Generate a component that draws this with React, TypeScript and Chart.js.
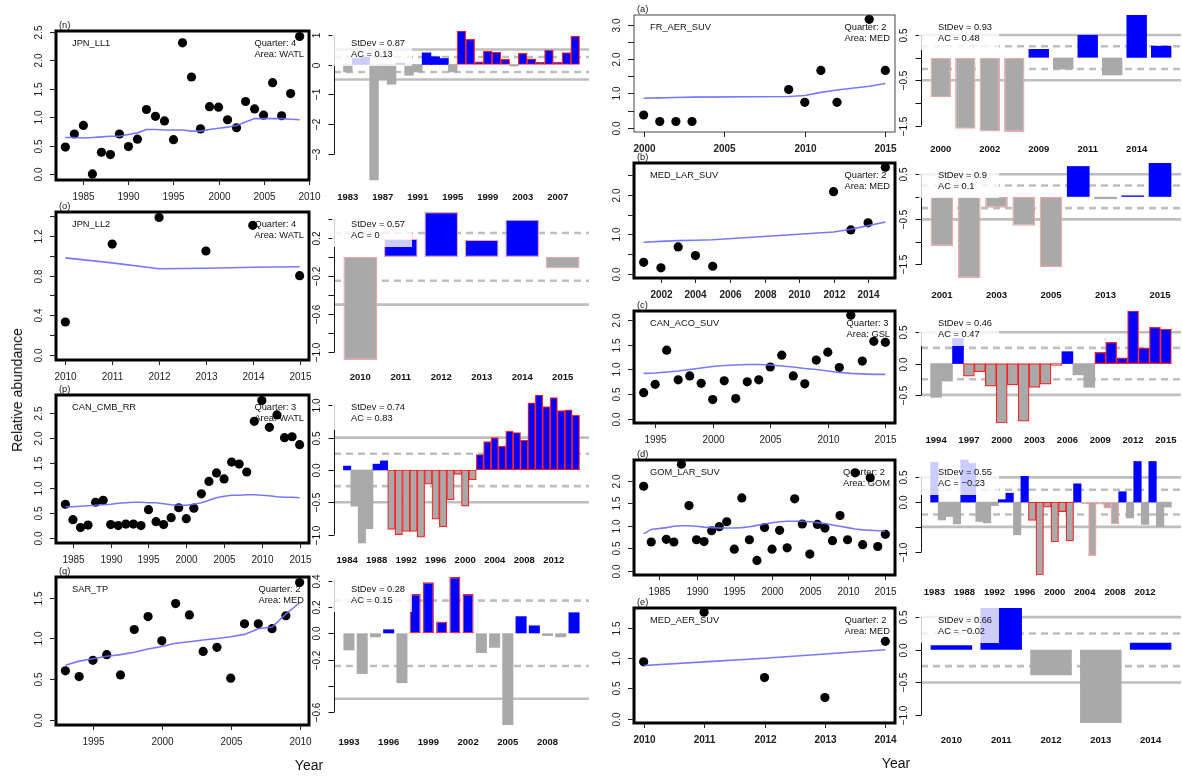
import React, { useEffect, useRef } from 'react';
import { Chart, registerables } from 'chart.js';
Chart.register(...registerables);

const FF = '"Liberation Sans", Arial, Helvetica, sans-serif';
const BLUE = '#0000ff';
const GRAY = '#a9a9a9';
const RED = '#ff2020';
const PINK = '#f3a3a3';
const REF = '#bebebe';
const TREND = 'rgba(105,105,255,0.9)';

// ---------------- (n) JPN_LL1 ----------------
const nYears = [1983,1984,1985,1986,1987,1988,1989,1990,1991,1992,1993,1994,1995,1996,1997,1998,1999,2000,2001,2002,2003,2004,2005,2006,2007,2008,2009];
const nIndex = [0.48,0.71,0.86,0.01,0.39,0.35,0.71,0.49,0.62,1.14,1.02,0.94,0.61,2.31,1.71,0.80,1.19,1.18,0.96,0.82,1.28,1.15,1.04,1.61,1.03,1.42,2.42];
const nTrend = [0.65,0.65,0.64,0.65,0.66,0.67,0.67,0.70,0.73,0.79,0.79,0.78,0.78,0.78,0.76,0.76,0.79,0.81,0.83,0.86,0.92,0.98,0.98,0.98,0.98,0.97,0.96];
const nAnom = [-0.25,0.20,0.25,-3.86,-0.50,-0.66,0.05,-0.36,-0.25,0.39,0.26,0.20,-0.25,1.12,0.84,0.09,0.45,0.41,0.17,-0.05,0.37,0.19,0.08,0.48,0.08,0.40,0.95];
const nRed = [1996,1997,1998,1999,2000,2001,2003,2004,2005,2006,2007,2008,2009];

// ---------------- (o) JPN_LL2 ----------------
const oYears = [2010,2011,2012,2013,2014,2015];
const oIndex = [0.33,1.12,1.39,1.05,1.31,0.80];
const oTrend = [0.98,0.93,0.87,0.875,0.885,0.89];
const oAnom = [-1.08,0.19,0.47,0.18,0.39,-0.12];

// ---------------- (p) CAN_CMB_RR ----------------
const pYears = [1984,1985,1986,1987,1988,1989,1990,1991,1992,1993,1994,1995,1996,1997,1998,1999,2000,2001,2002,2003,2004,2005,2006,2007,2008,2009,2010,2011,2012,2013,2014,2015];
const pIndex = [0.67,0.36,0.20,0.25,0.71,0.75,0.26,0.24,0.27,0.27,0.24,0.56,0.32,0.26,0.40,0.60,0.38,0.59,0.88,1.13,1.30,1.18,1.52,1.48,1.32,2.34,2.76,2.22,2.47,2.01,2.03,1.87];
const pTrend = [0.62,0.62,0.63,0.64,0.65,0.66,0.67,0.69,0.70,0.71,0.71,0.70,0.70,0.68,0.66,0.65,0.65,0.67,0.70,0.75,0.80,0.83,0.85,0.85,0.86,0.86,0.85,0.84,0.82,0.81,0.81,0.80];
const pAnom = [0.06,-0.56,-1.13,-0.91,0.09,0.14,-0.92,-1.00,-0.95,-0.95,-1.04,-0.22,-0.76,-0.88,-0.46,-0.07,-0.56,-0.15,0.24,0.44,0.50,0.37,0.60,0.58,0.46,1.04,1.16,0.98,1.12,0.92,0.93,0.85];
const pRed = [1990,1991,1992,1993,1994,1995,1996,1997,1998,1999,2000,2001,2002,2003,2004,2005,2006,2007,2008,2009,2010,2011,2012,2013,2014,2015];

// ---------------- (q) SAR_TP ----------------
const qYears = [1993,1994,1995,1996,1997,1998,1999,2000,2001,2002,2003,2004,2005,2006,2007,2008,2009,2010];
const qIndex = [0.60,0.53,0.73,0.80,0.55,1.11,1.27,0.97,1.43,1.29,0.84,0.89,0.51,1.18,1.18,1.12,1.28,1.69];
const qTrend = [0.67,0.72,0.75,0.78,0.80,0.83,0.87,0.90,0.94,0.96,0.98,1.00,1.02,1.05,1.12,1.14,1.30,1.44];
const qAnom = [-0.13,-0.31,-0.03,0.03,-0.38,0.30,0.39,0.09,0.43,0.30,-0.15,-0.11,-0.70,0.13,0.06,-0.02,-0.03,0.16];
const qRed = [1998,1999,2000,2001,2002];

// ---------------- (a) FR_AER_SUV ----------------
const aYears = [2000,2001,2002,2003,2009,2010,2011,2012,2014,2015];
const aIndex = [0.37,0.18,0.18,0.18,1.11,0.74,1.67,0.74,3.16,1.67];
const aTrend = [0.86,0.87,0.88,0.89,0.91,0.94,1.03,1.10,1.21,1.29];
const aAnom = [-0.87,-1.57,-1.63,-1.64,0.19,-0.26,0.50,-0.39,0.94,0.26];
const aPink = [2000,2001,2002,2003];

// ---------------- (b) MED_LAR_SUV ----------------
const bYears = [2001,2002,2003,2004,2005,2012,2013,2014,2015];
const bIndex = [0.29,0.15,0.68,0.46,0.19,2.08,1.11,1.29,2.70];
const bTrend = [0.80,0.82,0.84,0.85,0.86,1.06,1.13,1.22,1.31];
const bAnom = [-1.09,-1.80,-0.24,-0.64,-1.56,0.68,-0.05,0.03,0.75];
const bPink = [2001,2002,2003,2004,2005];

// ---------------- (c) CAN_ACO_SUV ----------------
const cYears = [1994,1995,1996,1997,1998,1999,2000,2001,2002,2003,2004,2005,2006,2007,2008,2009,2010,2011,2012,2013,2014,2015];
const cIndex = [0.53,0.70,1.39,0.79,0.87,0.72,0.39,0.77,0.41,0.75,0.79,1.05,1.29,0.87,0.71,1.19,1.35,1.04,2.10,1.17,1.57,1.55];
const cTrend = [0.92,0.93,0.95,0.97,1.00,1.03,1.06,1.08,1.09,1.10,1.10,1.09,1.07,1.05,1.02,1.00,0.97,0.94,0.92,0.91,0.90,0.90];
const cAnom = [-0.54,-0.28,0.40,-0.20,-0.13,-0.36,-0.95,-0.34,-0.92,-0.38,-0.33,-0.03,0.19,-0.18,-0.38,0.18,0.34,0.09,0.84,0.25,0.58,0.55];
const cRed = [1997,1998,1999,2000,2001,2002,2003,2004,2005,2009,2010,2011,2012,2013,2014,2015];

// ---------------- (d) GOM_LAR_SUV ----------------
const dYears = [1983,1984,1986,1987,1988,1989,1990,1991,1992,1993,1994,1995,1996,1997,1998,1999,2000,2001,2002,2003,2004,2005,2006,2007,2008,2009,2010,2011,2012,2013,2014,2015];
const dIndex = [1.88,0.64,0.70,0.64,2.37,1.45,0.69,0.65,0.89,0.98,1.09,0.48,1.62,0.69,0.23,0.96,0.48,0.90,0.51,1.60,1.04,0.37,1.03,0.95,0.67,1.23,0.69,2.18,0.58,2.07,0.54,0.81];
const dTrend = [0.82,0.92,0.96,0.99,1.00,1.00,0.99,0.97,0.96,0.95,0.95,0.95,0.96,0.98,1.01,1.04,1.07,1.09,1.10,1.10,1.10,1.09,1.07,1.05,1.02,0.99,0.96,0.93,0.91,0.90,0.89,0.88];
const dAnom = [0.80,-0.36,-0.29,-0.44,0.85,0.78,-0.39,-0.42,-0.07,0.05,0.18,-0.66,0.52,-0.37,-1.47,-0.10,-0.80,-0.19,-0.78,0.37,-0.03,-1.08,-0.04,-0.12,-0.44,0.21,-0.32,0.82,-0.45,0.82,-0.49,-0.10];
const dRed = [1997,1998,1999,2000,2001,2002];
const dPink = [2004,2005,2006,2007,2008];

// ---------------- (e) MED_AER_SUV ----------------
const eYears = [2010,2011,2012,2013,2014];
const eIndex = [0.94,1.76,0.68,0.35,1.28];
const eTrend = [0.88,0.94,1.00,1.07,1.14];
const eAnom = [0.07,0.64,-0.39,-1.12,0.11];

// ---------------- tick labels ----------------
const tickHalf25 = [0, 0.5, 1, 1.5, 2, 2.5];
const lblHalf25 = ['0.0', '0.5', '1.0', '1.5', '2.0', '2.5'];
const tickO = [0, 0.2, 0.4, 0.6, 0.8, 1.0, 1.2, 1.4];
const lblO = ['0.0', '', '0.4', '', '0.8', '', '1.2', ''];
const tickHalf15 = [0, 0.5, 1, 1.5];
const lblHalf15 = ['0.0', '0.5', '1.0', '1.5'];
const tickHalf20 = [0, 0.5, 1, 1.5, 2];
const lblHalf20 = ['0.0', '0.5', '1.0', '1.5', '2.0'];
const tickA = [0, 0.5, 1, 1.5, 2, 2.5, 3];
const lblA = ['0.0', '', '1.0', '', '2.0', '', '3.0'];
const lblB = ['0.0', '', '1.0', '', '2.0', ''];

const nBarTicks = [1, 0, -1, -2, -3];
const nBarLbls = ['1', '0', '\u22121', '\u22122', '\u22123'];
const oBarTicks = [0.4, 0.2, 0, -0.2, -0.4, -0.6, -0.8, -1.0];
const oBarLbls = ['', '0.2', '', '\u22120.2', '', '\u22120.6', '', '\u22121.0'];
const pBarTicks = [1, 0.5, 0, -0.5, -1];
const pBarLbls = ['1.0', '0.5', '0.0', '\u22120.5', '\u22121.0'];
const qBarTicks = [0.4, 0.2, 0, -0.2, -0.4, -0.6];
const qBarLbls = ['0.4', '0.2', '0.0', '\u22120.2', '', '\u22120.6'];
const abBarTicks = [0.5, 0, -0.5, -1, -1.5];
const abBarLbls = ['0.5', '', '\u22120.5', '', '\u22121.5'];
const cBarTicks = [0.5, 0, -0.5];
const cBarLbls = ['0.5', '0.0', '\u22120.5'];
const dBarTicks = [0.5, 0, -0.5, -1];
const dBarLbls = ['0.5', '0.0', '', '\u22121.0'];
const eBarLbls = ['0.5', '0.0', '\u22120.5', '\u22121.0'];

const PADL = 46, PADR = 16, PADT = 20, PADB = 30;

type Rect = [number, number, number, number];
type SSpec = {
  rect: Rect; tag: string; name: string; quarter: string; area: string;
  years: number[]; index: number[]; trend: number[];
  xTicks: number[]; yTicks: number[]; yLabels: string[]; thick: boolean; boldX: boolean;
};
type BSpec = {
  rect: Rect; years: number[]; anom: number[]; space: number; every: number;
  red: number[]; pink: number[]; yTicks: number[]; yLabels: string[]; stdev: string; ac: string;
};

const f = (sz: number, bold = false) => `${bold ? 'bold ' : ''}${sz}px ${FF}`;

function rotText(ctx: CanvasRenderingContext2D, t: string, x: number, y: number) {
  ctx.save();
  ctx.translate(x, y);
  ctx.rotate(-Math.PI / 2);
  ctx.textAlign = 'center';
  ctx.textBaseline = 'middle';
  ctx.fillText(t, 0, 0);
  ctx.restore();
}

const boundTicks = (scale: any) => {
  scale.ticks = [{ value: scale.min }, { value: scale.max }];
};

function makeScatter(cv: HTMLCanvasElement, s: SSpec) {
  const n = s.years.length;
  const x0 = s.years[0], x1 = s.years[n - 1];
  const dx = (x1 - x0) * 0.04;
  const ymax = Math.max(...s.index);
  const deco = {
    id: 'sdeco',
    beforeDatasetsDraw(chart: any) {
      const ctx = chart.ctx as CanvasRenderingContext2D;
      const { left: L, top: T, right: R } = chart.chartArea;
      ctx.save();
      ctx.fillStyle = '#111';
      ctx.font = f(9.3);
      ctx.textBaseline = 'middle';
      ctx.textAlign = 'left';
      ctx.fillText(s.name, L + 16, T + 12);
      const l1 = 'Quarter: ' + s.quarter, l2 = 'Area: ' + s.area;
      const w = Math.max(ctx.measureText(l1).width, ctx.measureText(l2).width);
      ctx.fillText(l1, R - 5 - w, T + 12);
      ctx.fillText(l2, R - 5 - w, T + 23);
      ctx.restore();
    },
    afterDatasetsDraw(chart: any) {
      const ctx = chart.ctx as CanvasRenderingContext2D;
      const { left: L, top: T, right: R, bottom: B } = chart.chartArea;
      const xs = chart.scales.x, ys = chart.scales.y;
      ctx.save();
      ctx.strokeStyle = s.thick ? '#000' : '#444';
      ctx.lineWidth = s.thick ? 3 : 1;
      ctx.strokeRect(L, T, R - L, B - T);
      ctx.strokeStyle = '#222';
      ctx.lineWidth = 1;
      ctx.fillStyle = '#222';
      ctx.font = f(10, s.boldX);
      ctx.textAlign = 'center';
      ctx.textBaseline = 'middle';
      for (const t of s.xTicks) {
        const px = Math.round(xs.getPixelForValue(t)) + 0.5;
        ctx.beginPath(); ctx.moveTo(px, B); ctx.lineTo(px, B + 5); ctx.stroke();
        ctx.fillText(String(t), px, B + 17);
      }
      ctx.font = f(10);
      s.yTicks.forEach((t, i) => {
        const py = Math.round(ys.getPixelForValue(t)) + 0.5;
        ctx.beginPath(); ctx.moveTo(L, py); ctx.lineTo(L - 6, py); ctx.stroke();
        if (s.yLabels[i]) rotText(ctx, s.yLabels[i], L - 17, py);
      });
      ctx.font = f(9.3);
      ctx.textAlign = 'left';
      ctx.fillStyle = '#111';
      ctx.fillText(s.tag, L + 3, T - 6);
      ctx.restore();
    },
  };
  return new Chart(cv, {
    type: 'scatter',
    data: {
      datasets: [
        {
          type: 'line',
          data: s.years.map((y, i) => ({ x: y, y: s.trend[i] })),
          borderColor: TREND, borderWidth: 1.6, pointRadius: 0, fill: false, tension: 0, clip: false,
        } as any,
        {
          data: s.years.map((y, i) => ({ x: y, y: s.index[i] })),
          pointRadius: 4.6, pointBackgroundColor: '#000', pointBorderWidth: 0, backgroundColor: '#000', clip: false,
        },
      ],
    },
    options: {
      animation: false, responsive: false, devicePixelRatio: 1, events: [],
      layout: { padding: { left: PADL, right: PADR, top: PADT, bottom: PADB } },
      plugins: { legend: { display: false }, tooltip: { enabled: false } },
      scales: {
        x: { type: 'linear', display: false, bounds: 'data', min: x0 - dx, max: x1 + dx, afterBuildTicks: boundTicks },
        y: { type: 'linear', display: false, bounds: 'data', min: -0.04 * ymax, max: 1.04 * ymax, afterBuildTicks: boundTicks },
      },
    },
    plugins: [deco],
  } as any);
}

function makeBars(cv: HTMLCanvasElement, s: BSpec) {
  const n = s.years.length, sp = s.space;
  const left = sp, right = n * (1 + sp), Lw = right - left;
  const centers = s.years.map((_, i) => sp + i * (1 + sp) + 0.5);
  const ymin = Math.min(...s.anom), ymax = Math.max(...s.anom);
  const deco = {
    id: 'bdeco',
    beforeDatasetsDraw(chart: any) {
      const ctx = chart.ctx as CanvasRenderingContext2D;
      const { left: L, right: R } = chart.chartArea;
      const ys = chart.scales.y;
      ctx.save();
      ctx.strokeStyle = REF;
      ctx.lineWidth = 2.6;
      for (const v of [0.5, -0.5, 0.25, -0.25]) {
        if (v > ymax || v < ymin) continue;
        const py = ys.getPixelForValue(v);
        ctx.setLineDash(Math.abs(v) === 0.25 ? [7, 5] : []);
        ctx.beginPath(); ctx.moveTo(L, py); ctx.lineTo(R, py); ctx.stroke();
      }
      ctx.restore();
    },
    afterDatasetsDraw(chart: any) {
      const ctx = chart.ctx as CanvasRenderingContext2D;
      const { left: L, top: T, bottom: B } = chart.chartArea;
      const xs = chart.scales.x, ys = chart.scales.y;
      ctx.save();
      ctx.strokeStyle = '#111';
      ctx.fillStyle = '#111';
      ctx.lineWidth = 1;
      const ya = ys.getPixelForValue(s.yTicks[0]);
      const yb = ys.getPixelForValue(s.yTicks[s.yTicks.length - 1]);
      const ax = Math.round(L) + 0.5;
      ctx.beginPath(); ctx.moveTo(ax, ya); ctx.lineTo(ax, yb); ctx.stroke();
      ctx.font = f(10);
      s.yTicks.forEach((t, i) => {
        const py = Math.round(ys.getPixelForValue(t)) + 0.5;
        ctx.beginPath(); ctx.moveTo(ax, py); ctx.lineTo(ax - 6, py); ctx.stroke();
        if (s.yLabels[i]) rotText(ctx, s.yLabels[i], L - 17, py);
      });
      ctx.font = f(9.5, true);
      ctx.textAlign = 'center';
      ctx.textBaseline = 'middle';
      s.years.forEach((y, i) => {
        if (i % s.every !== 0) return;
        ctx.fillText(String(y), xs.getPixelForValue(centers[i]), B + 17);
      });
      ctx.fillStyle = 'rgba(255,255,255,0.8)';
      ctx.fillRect(L - 2, T - 1, 80, 36);
      ctx.fillStyle = '#111';
      ctx.font = f(9.3);
      ctx.textAlign = 'left';
      ctx.fillText('StDev = ' + s.stdev, L + 17, T + 12);
      ctx.fillText('AC = ' + s.ac, L + 17, T + 23);
      ctx.restore();
    },
  };
  return new Chart(cv, {
    type: 'bar',
    data: {
      datasets: [
        {
          data: centers.map((c, i) => ({ x: c, y: s.anom[i] })),
          backgroundColor: s.anom.map((v) => (v >= 0 ? BLUE : GRAY)),
          borderColor: s.years.map((y) => (s.red.includes(y) ? RED : s.pink.includes(y) ? PINK : 'rgba(0,0,0,0)')),
          borderWidth: s.years.map((y) => (s.red.includes(y) || s.pink.includes(y) ? 1.2 : 0)),
          borderSkipped: false,
          categoryPercentage: 1,
          barPercentage: 1 / (1 + sp),
          clip: false,
        },
      ],
    },
    options: {
      animation: false, responsive: false, devicePixelRatio: 1, events: [],
      layout: { padding: { left: PADL, right: PADR, top: PADT, bottom: PADB } },
      plugins: { legend: { display: false }, tooltip: { enabled: false } },
      scales: {
        x: { type: 'linear', display: false, offset: false, bounds: 'data', min: left - 0.04 * Lw, max: right + 0.04 * Lw, afterBuildTicks: boundTicks },
        y: { type: 'linear', display: false, bounds: 'data', min: ymin, max: ymax, afterBuildTicks: boundTicks },
      },
    },
    plugins: [deco],
  } as any);
}

function Panel({ kind, spec }: { kind: 's' | 'b'; spec: any }) {
  const ref = useRef<HTMLCanvasElement>(null);
  useEffect(() => {
    const c = kind === 's' ? makeScatter(ref.current!, spec) : makeBars(ref.current!, spec);
    return () => c.destroy();
  }, []);
  const [L, T, R, B] = spec.rect as Rect;
  const w = R - L + PADL + PADR, h = B - T + PADT + PADB;
  return (
    <canvas
      ref={ref}
      width={w}
      height={h}
      style={{ position: 'absolute', left: L - PADL, top: T - PADT, width: w, height: h }}
    />
  );
}

const LS: [number, number] = [56, 309];
const LB: [number, number] = [334, 589];
const RS: [number, number] = [634, 895];
const RB: [number, number] = [921, 1181];

const scatters: SSpec[] = [
  { rect: [LS[0], 31, LS[1], 180], tag: '(n)', name: 'JPN_LL1', quarter: '4', area: 'WATL', years: nYears, index: nIndex, trend: nTrend, xTicks: [1985, 1990, 1995, 2000, 2005, 2010], yTicks: tickHalf25, yLabels: lblHalf25, thick: true, boldX: false },
  { rect: [LS[0], 212, LS[1], 360], tag: '(o)', name: 'JPN_LL2', quarter: '4', area: 'WATL', years: oYears, index: oIndex, trend: oTrend, xTicks: [2010, 2011, 2012, 2013, 2014, 2015], yTicks: tickO, yLabels: lblO, thick: true, boldX: false },
  { rect: [LS[0], 395, LS[1], 543], tag: '(p)', name: 'CAN_CMB_RR', quarter: '3', area: 'WATL', years: pYears, index: pIndex, trend: pTrend, xTicks: [1985, 1990, 1995, 2000, 2005, 2010, 2015], yTicks: tickHalf25, yLabels: lblHalf25, thick: true, boldX: false },
  { rect: [LS[0], 577, LS[1], 725], tag: '(q)', name: 'SAR_TP', quarter: '2', area: 'MED', years: qYears, index: qIndex, trend: qTrend, xTicks: [1995, 2000, 2005, 2010], yTicks: tickHalf15, yLabels: lblHalf15, thick: true, boldX: false },
  { rect: [RS[0], 15, RS[1], 132], tag: '(a)', name: 'FR_AER_SUV', quarter: '2', area: 'MED', years: aYears, index: aIndex, trend: aTrend, xTicks: [2000, 2005, 2010, 2015], yTicks: tickA, yLabels: lblA, thick: false, boldX: true },
  { rect: [RS[0], 163, RS[1], 278], tag: '(b)', name: 'MED_LAR_SUV', quarter: '2', area: 'MED', years: bYears, index: bIndex, trend: bTrend, xTicks: [2002, 2004, 2006, 2008, 2010, 2012, 2014], yTicks: tickHalf25, yLabels: lblB, thick: true, boldX: true },
  { rect: [RS[0], 311, RS[1], 423], tag: '(c)', name: 'CAN_ACO_SUV', quarter: '3', area: 'GSL', years: cYears, index: cIndex, trend: cTrend, xTicks: [1995, 2000, 2005, 2010, 2015], yTicks: tickHalf20, yLabels: lblHalf20, thick: true, boldX: false },
  { rect: [RS[0], 460, RS[1], 575], tag: '(d)', name: 'GOM_LAR_SUV', quarter: '2', area: 'GOM', years: dYears, index: dIndex, trend: dTrend, xTicks: [1985, 1990, 1995, 2000, 2005, 2010, 2015], yTicks: tickHalf20, yLabels: lblHalf20, thick: true, boldX: false },
  { rect: [RS[0], 608, RS[1], 723], tag: '(e)', name: 'MED_AER_SUV', quarter: '2', area: 'MED', years: eYears, index: eIndex, trend: eTrend, xTicks: [2010, 2011, 2012, 2013, 2014], yTicks: tickHalf15, yLabels: lblHalf15, thick: true, boldX: true },
];

const bars: BSpec[] = [
  { rect: [LB[0], 31, LB[1], 180], years: nYears, anom: nAnom, space: 0, every: 4, red: nRed, pink: [], yTicks: nBarTicks, yLabels: nBarLbls, stdev: '0.87', ac: '0.13' },
  { rect: [LB[0], 212, LB[1], 360], years: oYears, anom: oAnom, space: 0.2, every: 1, red: [], pink: oYears, yTicks: oBarTicks, yLabels: oBarLbls, stdev: '0.57', ac: '0' },
  { rect: [LB[0], 395, LB[1], 543], years: pYears, anom: pAnom, space: 0, every: 4, red: pRed, pink: [], yTicks: pBarTicks, yLabels: pBarLbls, stdev: '0.74', ac: '0.83' },
  { rect: [LB[0], 577, LB[1], 725], years: qYears, anom: qAnom, space: 0.2, every: 3, red: qRed, pink: [], yTicks: qBarTicks, yLabels: qBarLbls, stdev: '0.28', ac: '0.15' },
  { rect: [RB[0], 15, RB[1], 132], years: aYears, anom: aAnom, space: 0.2, every: 2, red: [], pink: aPink, yTicks: abBarTicks, yLabels: abBarLbls, stdev: '0.93', ac: '0.48' },
  { rect: [RB[0], 163, RB[1], 278], years: bYears, anom: bAnom, space: 0.2, every: 2, red: [], pink: bPink, yTicks: abBarTicks, yLabels: abBarLbls, stdev: '0.9', ac: '0.1' },
  { rect: [RB[0], 311, RB[1], 423], years: cYears, anom: cAnom, space: 0, every: 3, red: cRed, pink: [], yTicks: cBarTicks, yLabels: cBarLbls, stdev: '0.46', ac: '0.47' },
  { rect: [RB[0], 460, RB[1], 575], years: dYears, anom: dAnom, space: 0, every: 4, red: dRed, pink: dPink, yTicks: dBarTicks, yLabels: dBarLbls, stdev: '0.55', ac: '\u22120.23' },
  { rect: [RB[0], 608, RB[1], 723], years: eYears, anom: eAnom, space: 0.2, every: 1, red: [], pink: [], yTicks: dBarTicks, yLabels: eBarLbls, stdev: '0.66', ac: '\u22120.02' },
];

export default function App() {
  return (
    <div style={{ position: 'absolute', left: 0, top: 0, width: 1182, height: 776, overflow: 'hidden', background: '#fff', fontFamily: FF }}>
      {scatters.map((s, i) => <Panel key={'s' + i} kind="s" spec={s} />)}
      {bars.map((b, i) => <Panel key={'b' + i} kind="b" spec={b} />)}
      <div style={{ position: 'absolute', left: 17, top: 390, transform: 'translate(-50%, -50%) rotate(-90deg)', fontSize: 14, whiteSpace: 'nowrap', color: '#111' }}>Relative abundance</div>
      <div style={{ position: 'absolute', left: 309, top: 765, transform: 'translate(-50%, -50%)', fontSize: 14, color: '#111' }}>Year</div>
      <div style={{ position: 'absolute', left: 896, top: 763, transform: 'translate(-50%, -50%)', fontSize: 14, color: '#111' }}>Year</div>
    </div>
  );
}
